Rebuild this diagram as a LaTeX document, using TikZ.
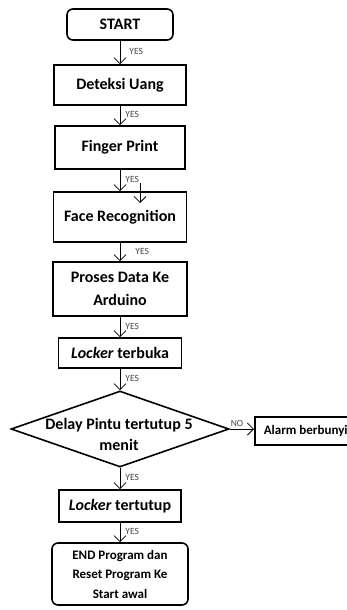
\documentclass[tikz,border=0pt]{standalone}
\usepackage{fontspec}
\setmainfont{Carlito}
\usetikzlibrary{shapes.geometric,arrows.meta}

\tikzset{
  box/.style={draw, line width=1.6pt, font=\bfseries\fontsize{16}{23}\selectfont, align=center, inner sep=0pt},
  term/.style={box, rounded corners=6pt},
  arr/.style={-{Straight Barb[length=6pt,width=12pt]}, line width=0.8pt},
  yes/.style={font=\fontsize{9.5}{10}\selectfont, text=black!72, inner sep=1pt, xshift=4pt, yshift=1pt},
}

\begin{document}
\begin{tikzpicture}[x=1pt,y=-1pt]
\useasboundingbox (0,0) rectangle (347,610);
% boxes
\node[term, minimum width=106pt, minimum height=31pt] (start) at (120,24.5) {START};
\node[box, minimum width=132pt, minimum height=40pt] (deteksi) at (120,85) {Deteksi Uang};
\node[box, minimum width=130pt, minimum height=43pt] (finger) at (120,147.5) {Finger Print};
\node[box, minimum width=133pt, minimum height=50pt] (face) at (120,217) {Face Recognition};
\node[box, minimum width=134pt, minimum height=54pt] (proses) at (120,289) {Proses Data Ke\\Arduino};
\node[box, minimum width=123pt, minimum height=30pt] (terbuka) at (120,353) {\textit{Locker} terbuka};
\node[draw, diamond, line width=1.6pt, minimum width=218pt, minimum height=76pt, inner sep=0pt] (delay) at (120,429) {};
\node[font=\bfseries\fontsize{16}{21}\selectfont, align=center] (delaytxt) at (119,434) {Delay Pintu tertutup 5\\menit};
\node[box, anchor=west, inner xsep=9pt, minimum height=28pt, font=\bfseries\fontsize{13}{15}\selectfont] (alarm) at (254,431) {Alarm berbunyi};
\node[box, minimum width=122pt, minimum height=32pt] (tertutup) at (120,506) {\textit{Locker} tertutup};
\node[term, minimum width=136pt, minimum height=62pt, font=\bfseries\fontsize{13}{19.5}\selectfont] (end) at (120,574) {END Program dan\\Reset Program Ke\\Start awal};
% arrows
\draw[arr] (start) -- (deteksi) node[midway, right, yes, xshift=4pt] {YES};
\draw[arr] (deteksi) -- (finger) node[midway, right, yes] {YES};
\draw[arr] (finger) -- (face) node[midway, right, yes] {YES};
\coordinate (s1) at (140,183);
\coordinate (s2) at (140,203);
\draw[arr] (s1) -- (s2);
\draw[arr] (face) -- (proses) node[midway, right, yes, xshift=10pt] {YES};
\draw[arr] (proses) -- (terbuka) node[midway, right, yes] {YES};
\draw[arr] (terbuka) -- (delay) node[midway, right, yes] {YES};
\draw[arr] (delay.east) -- (delay.east -| alarm.west) node[pos=0.3, above, yes, xshift=-4pt] {NO};
\draw[arr] (delay) -- (tertutup) node[midway, right, yes] {YES};
\draw[arr] (tertutup) -- (end) node[midway, right, yes] {YES};
\end{tikzpicture}
\end{document}
